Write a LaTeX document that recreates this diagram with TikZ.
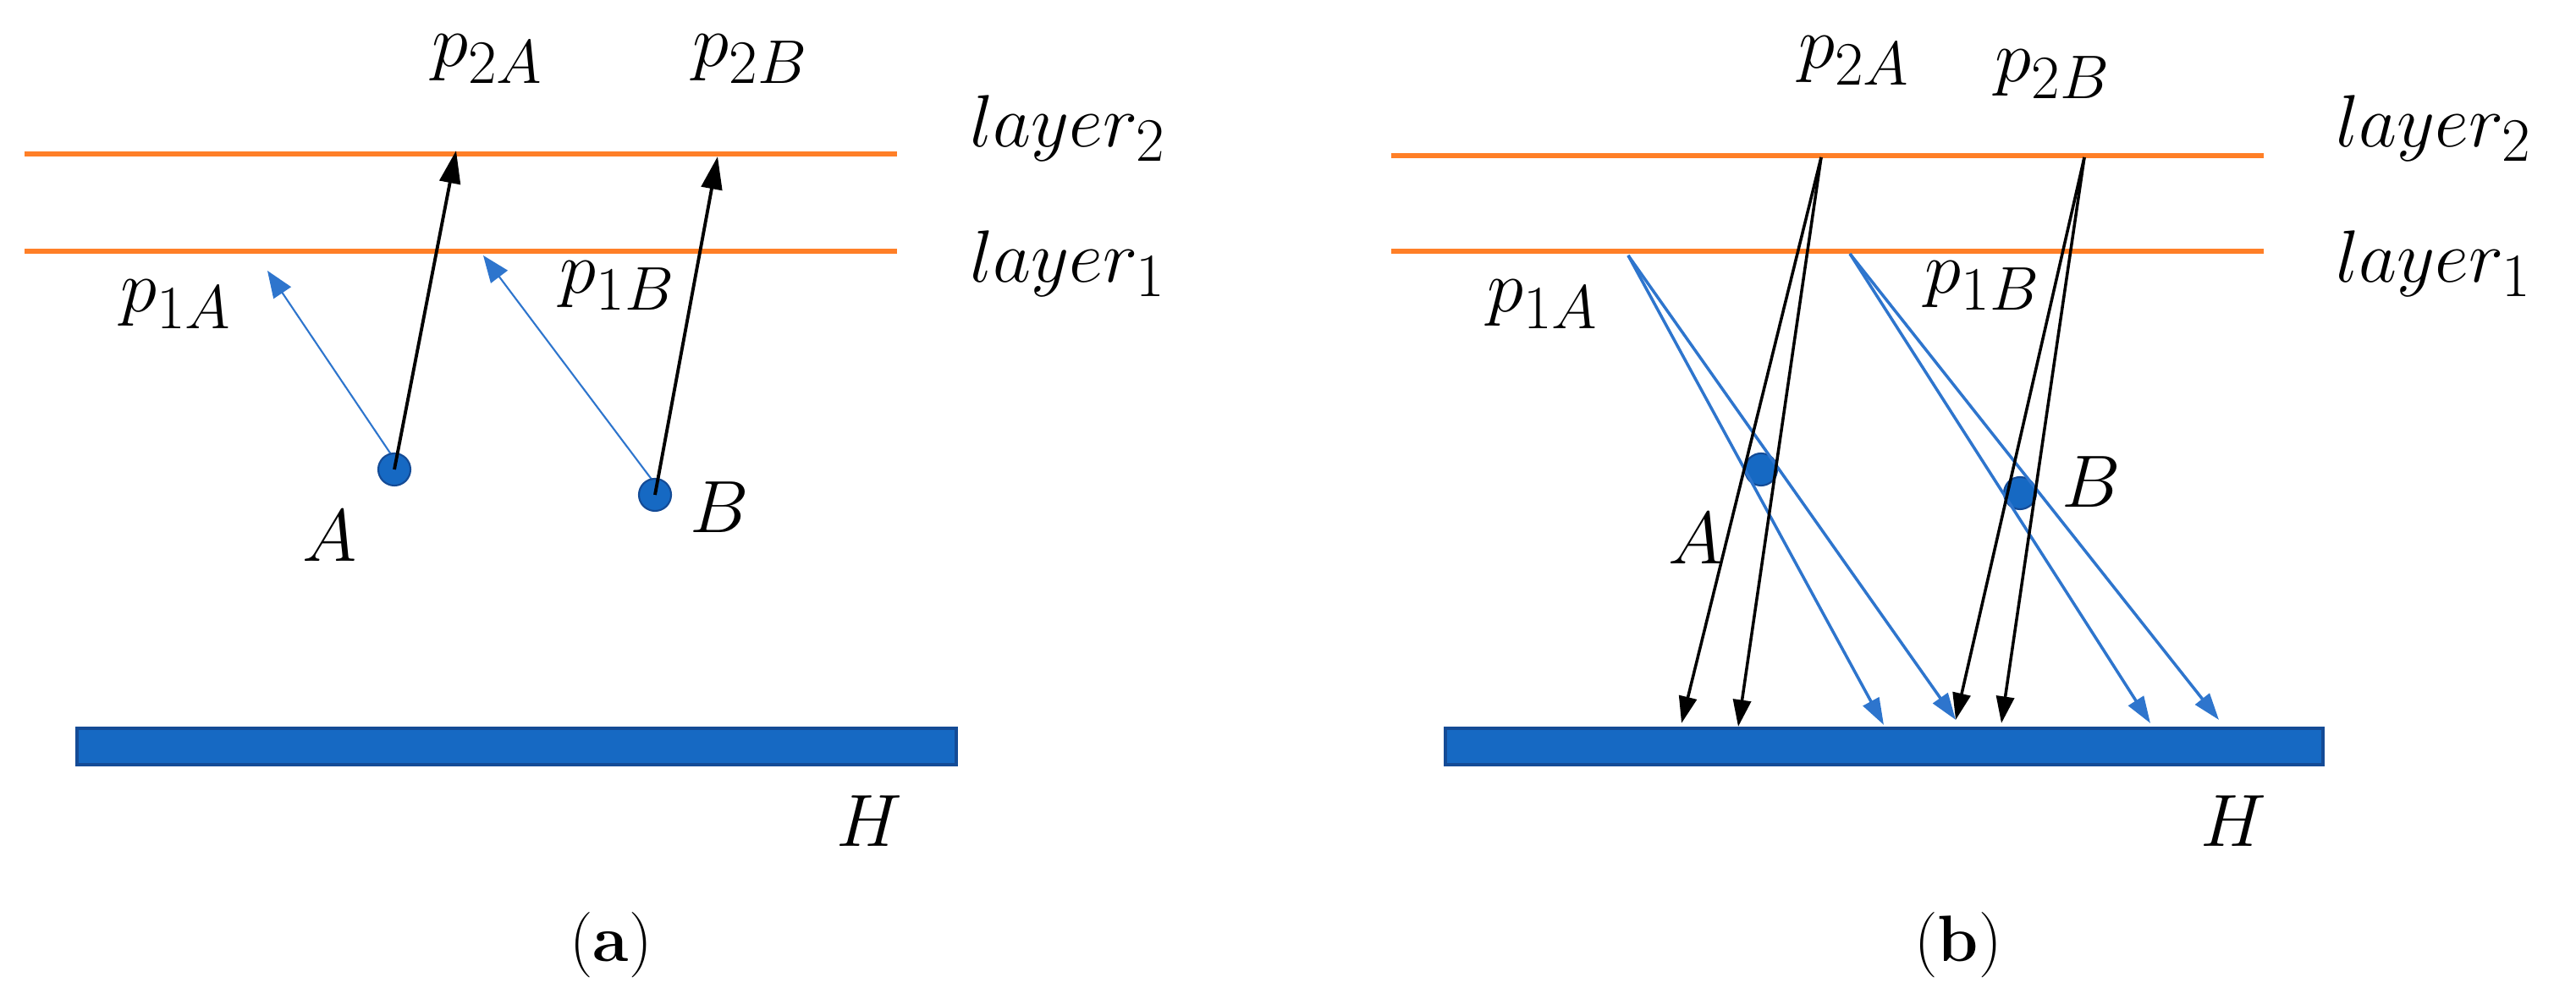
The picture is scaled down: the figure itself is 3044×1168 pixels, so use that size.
\documentclass[tikz,border=0pt]{standalone}
\usetikzlibrary{arrows.meta}
\definecolor{lay}{RGB}{255,127,39}
\definecolor{ablue}{RGB}{46,117,205}
\definecolor{dblue}{RGB}{22,105,195}
\definecolor{bdark}{RGB}{20,75,150}
\begin{document}
\begin{tikzpicture}[x=0.01cm,y=-0.01cm,
  layer/.style={draw=lay,line width=1.8pt},
  blk/.style={draw=black,line width=1.1pt,-{Triangle[length=11pt,width=7pt]}},
  blu/.style={draw=ablue,line width=0.6pt,-{Triangle[length=9pt,width=7pt]}},
  blub/.style={draw=ablue,line width=1pt,-{Triangle[length=9pt,width=6pt]}},
  blkb/.style={draw=black,line width=1pt,-{Triangle[length=9pt,width=6pt]}},
  dot/.style={circle,fill=dblue,draw=bdark,line width=0.6pt,minimum size=0.38cm,inner sep=0pt},
  bar/.style={fill=dblue,draw=bdark,line width=1pt},
  lbl/.style={font=\fontsize{28}{32}\selectfont,inner sep=0pt},
  captxt/.style={font=\fontsize{22}{26}\selectfont,inner sep=0pt}]
\useasboundingbox (0,0) rectangle (3044,1168);
% ---------- (a)
\draw[layer] (29,182) coordinate (a2l) -- (1060,182) coordinate (a2r);
\draw[layer] (29,297) coordinate (a1l) -- (1060,297) coordinate (a1r);
\node[lbl] (aL2) at (1262,152) {$layer_2$};
\node[lbl] (aL1) at (1262,312) {$layer_1$};
\node[lbl] (ap2A) at (576,70) {$p_{2A}$};
\node[lbl] (ap2B) at (887,70) {$p_{2B}$};
\node[lbl] (ap1A) at (208,360) {$p_{1A}$};
\node[lbl] (ap1B) at (730,338) {$p_{1B}$};
\coordinate (aE2A) at (539,178);
\coordinate (aE2B) at (848,185);
\coordinate (aE1A) at (316,320);
\coordinate (aE1B) at (571,302);
\draw[blu] (464,540) -- (aE1A);
\draw[blu] (771,568) -- (aE1B);
\node[dot] (aA) at (466,555) {};
\node[dot] (aB) at (774,585) {};
\draw[blk] (aA.center) -- (aE2A);
\draw[blk] (aB.center) -- (aE2B);
\node[lbl] (aAl) at (390,634) {$A$};
\node[lbl] (aBl) at (850,600) {$B$};
\draw[bar] (91,861) rectangle (1130,904);
\node[lbl] (aH) at (1027,971) {\fontsize{36}{40}\selectfont$H$};
\node[captxt] (capa) at (722,1117) {(\textbf{a})};
% ---------- (b)
\draw[layer] (1644,184) -- (2675,184);
\draw[layer] (1644,297) -- (2675,297);
\node[lbl] (bL2) at (2876,152) {$layer_2$};
\node[lbl] (bL1) at (2876,312) {$layer_1$};
\node[lbl] (bp2A) at (2191,72) {$p_{2A}$};
\node[lbl] (bp2B) at (2426,88) {\fontsize{32}{36}\selectfont$p_{2B}$};
\node[lbl] (bp1A) at (1823,360) {$p_{1A}$};
\node[lbl] (bp1B) at (2343,338) {$p_{1B}$};
\node[dot] (bA) at (2081,555) {};
\node[dot] (bB) at (2387,583) {};
\coordinate (bS2A) at (2152,186);
\coordinate (bS2B) at (2463,186);
\coordinate (bS1A) at (1924,302);
\coordinate (bS1B) at (2186,300);
\draw[blub] (bS1A) -- (2226,857);
\draw[blub] (bS1A) -- (2311,851);
\draw[blub] (bS1B) -- (2541,855);
\draw[blub] (bS1B) -- (2622,851);
\draw[blkb] (bS2A) -- (1987,855);
\draw[blkb] (bS2A) -- (2054,859);
\draw[blkb] (bS2B) -- (2311,851);
\draw[blkb] (bS2B) -- (2365,855);
\node[lbl] (bAl) at (2004,637) {$A$};
\node[lbl] (bBl) at (2471,570) {$B$};
\draw[bar] (1708,861) rectangle (2745,904);
\node[lbl] (bH) at (2639,971) {\fontsize{36}{40}\selectfont$H$};
\node[captxt] (capb) at (2314,1117) {(\textbf{b})};
\end{tikzpicture}
\end{document}
